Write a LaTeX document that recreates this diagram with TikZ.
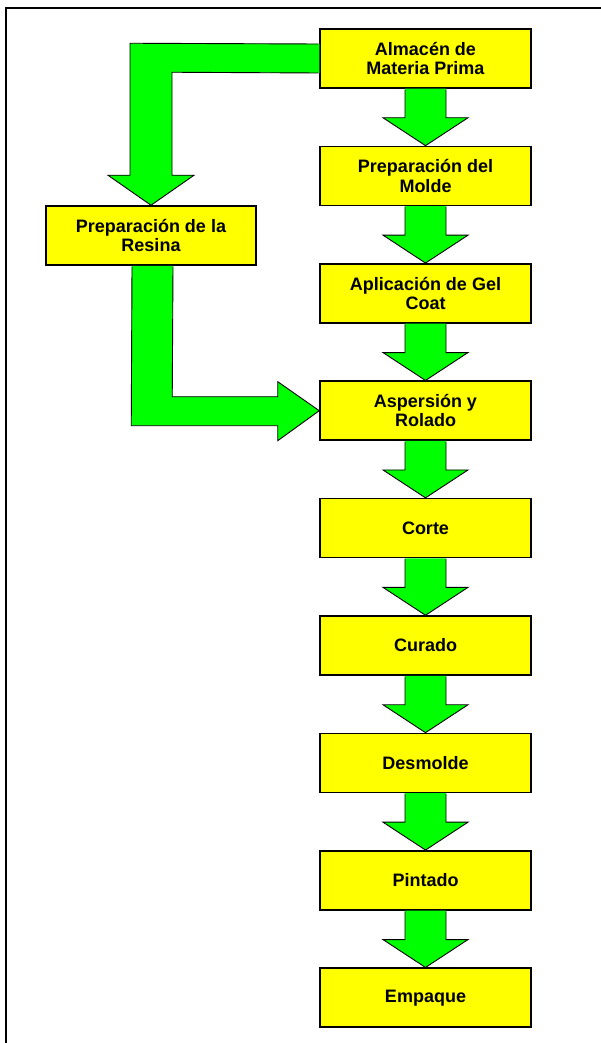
\documentclass[tikz,border=0pt]{standalone}
\usepackage{fontspec}
\setmainfont{Liberation Sans}
\usetikzlibrary{calc}
\definecolor{boxyellow}{RGB}{255,255,0}
\definecolor{flowgreen}{RGB}{0,255,0}
\tikzset{
  stepbox/.style={draw=black, line width=1.5pt, fill=boxyellow,
    minimum width=211pt, minimum height=59pt, inner sep=0pt,
    align=center, font=\bfseries\fontsize{18pt}{19.5pt}\selectfont},
  flowfill/.style={fill=flowgreen},
  flowline/.style={draw=black, line width=0.9pt, line join=miter},
  frameline/.style={draw=black, line width=2pt}
}
% fat downward arrow from the bottom of box #1 to the top of box #2
\newcommand{\downflow}[2]{%
  \fill[flowfill] ($(#1.south)+(-20.5,0)$) -- ($(#1.south)+(-20.5,29)$)
    -- ($(#1.south)+(-42.5,29)$) -- (#2.north) -- ($(#1.south)+(42.5,29)$)
    -- ($(#1.south)+(20.5,29)$) -- ($(#1.south)+(20.5,0)$) -- cycle;
  \draw[flowline] ($(#1.south)+(-20.5,0.8)$) -- ($(#1.south)+(-20.5,29)$)
    -- ($(#1.south)+(-42.5,29)$) -- (#2.north) -- ($(#1.south)+(42.5,29)$)
    -- ($(#1.south)+(20.5,29)$) -- ($(#1.south)+(20.5,0.8)$);
}
\begin{document}
\begin{tikzpicture}[x=1pt, y=-1pt]
\useasboundingbox (0,0) rectangle (601,1043);
\fill[white] (0,0) rectangle (601,1043);

% outer frame (open to the right and bottom)
\draw[frameline] (6,1043) -- (6,8) -- (601,8);

% process boxes
\node[stepbox] (alm) at (425.5,58.5) {Almacén de\\Materia Prima};
\node[stepbox] (mol) at (425.5,175.9) {Preparación del\\Molde};
\node[stepbox] (gel) at (425.5,293.3) {Aplicación de Gel\\Coat};
\node[stepbox] (asp) at (425.5,410.7) {Aspersión y\\Rolado};
\node[stepbox] (cor) at (425.5,528.1) {Corte};
\node[stepbox] (cur) at (425.5,645.5) {Curado};
\node[stepbox] (des) at (425.5,762.9) {Desmolde};
\node[stepbox] (pin) at (425.5,880.3) {Pintado};
\node[stepbox] (emp) at (425.5,997.7) {Empaque};
\node[stepbox, minimum width=210pt] (res) at (151,235.5) {Preparación de la\\Resina};

% main column of arrows
\downflow{alm}{mol}
\downflow{mol}{gel}
\downflow{gel}{asp}
\downflow{asp}{cor}
\downflow{cor}{cur}
\downflow{cur}{des}
\downflow{des}{pin}
\downflow{pin}{emp}

% bent arrow: raw material store -> resin preparation
\fill[flowfill] ($(alm.west)+(0,-14.5)$) -- ($(res.north)+(-21,-162)$)
  -- ($(res.north)+(-21,-30)$) -- ($(res.north)+(-43,-30)$) -- (res.north)
  -- ($(res.north)+(43,-30)$) -- ($(res.north)+(21,-30)$)
  -- ($(res.north)+(21,-133)$) -- ($(alm.west)+(0,14.5)$) -- cycle;
\draw[flowline] ($(alm.west)+(-0.8,-14.5)$) -- ($(res.north)+(-21,-162)$)
  -- ($(res.north)+(-21,-30)$) -- ($(res.north)+(-43,-30)$) -- (res.north)
  -- ($(res.north)+(43,-30)$) -- ($(res.north)+(21,-30)$)
  -- ($(res.north)+(21,-133)$) -- ($(alm.west)+(-0.8,14.5)$);

% bent arrow: resin preparation -> spraying and rolling
\fill[flowfill] ($(res.south)+(-19,0)$) -- ($(asp.west)+(-188,15)$)
  -- ($(asp.west)+(-41.5,15)$) -- ($(asp.west)+(-41.5,30)$) -- (asp.west)
  -- ($(asp.west)+(-41.5,-29)$) -- ($(asp.west)+(-41.5,-14)$)
  -- ($(asp.west)+(-147,-14)$) -- ($(res.south)+(22,0)$) -- cycle;
\draw[flowline] ($(res.south)+(-19,0.8)$) -- ($(asp.west)+(-188,15)$)
  -- ($(asp.west)+(-41.5,15)$) -- ($(asp.west)+(-41.5,30)$) -- (asp.west)
  -- ($(asp.west)+(-41.5,-29)$) -- ($(asp.west)+(-41.5,-14)$)
  -- ($(asp.west)+(-147,-14)$) -- ($(res.south)+(22,0.8)$);
\end{tikzpicture}
\end{document}
